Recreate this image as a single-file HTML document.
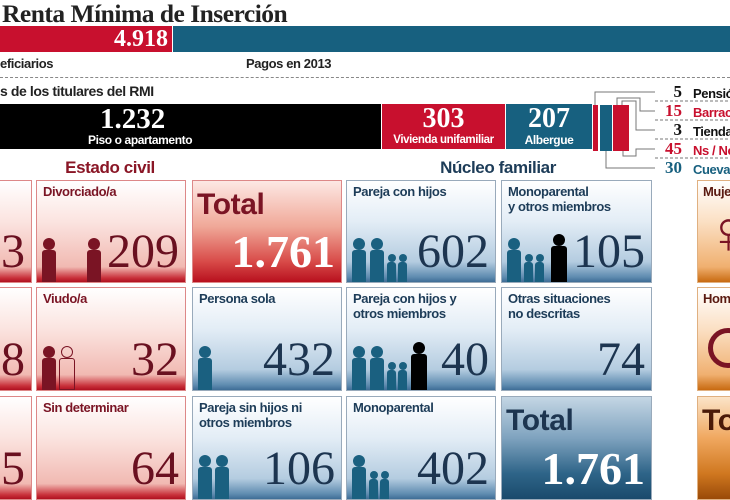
<!DOCTYPE html>
<html><head><meta charset="utf-8"><style>
*{margin:0;padding:0;box-sizing:border-box}
body{width:730px;height:500px;overflow:hidden;background:#fff;position:relative;font-family:"Liberation Sans",sans-serif}
.a{position:absolute}
.lbl{font-weight:bold;font-size:13px;letter-spacing:-0.4px;line-height:15px}
.num{font-family:"Liberation Serif",serif;font-size:48px;line-height:46px;text-align:right}
.rc{background:linear-gradient(#fff 0%,#fbe4e0 40%,#f1b9b2 85%,#c8303a 96%,#b01020 100%);border:1px solid #d88}
.bc{background:linear-gradient(#fff 0%,#e3edf6 40%,#b4cce0 80%,#5f8cb0 95%,#3e6d96 100%);border:1px solid #9ab}
.rc .lbl{color:#7a1424}.rc .num{color:#6a1020}
.bc .lbl{color:#1d3c58}.bc .num{color:#1d3550}
.cell{position:absolute;overflow:hidden}
.cell .lbl{position:absolute;left:6px;top:3px}
.cell .num{position:absolute;right:6px;bottom:7px}
.p{position:absolute;bottom:0}
.p i{display:block;border-radius:50%;margin:0 auto}
.p b{display:block;border-radius:3px 3px 0 0}
</style></head><body>
<div class="a" style="left:2px;top:-1px;font-family:'Liberation Serif',serif;font-weight:bold;font-size:25.5px;color:#222;letter-spacing:-0.5px">Renta Mínima de Inserción</div>
<div class="a" style="left:0;top:26px;width:172px;height:26px;background:#c8102e;color:#fff;font-family:'Liberation Serif',serif;font-weight:bold;font-size:24px;text-align:right;padding-right:4px;line-height:26px">4.918</div>
<div class="a" style="left:173px;top:26px;width:557px;height:26px;background:#17607f"></div>
<div class="a lbl" style="left:0;top:56px;color:#222">eficiarios</div>
<div class="a lbl" style="left:246px;top:56px;color:#222">Pagos en 2013</div>
<div class="a" style="left:0;top:77px;width:730px;border-top:1px dashed #888"></div>
<div class="a lbl" style="left:0;top:84px;color:#222;font-size:14px">s de los titulares del RMI</div>
<div class="a" style="left:0;top:104px;width:381px;height:45px;background:#000;color:#fff">
<div style="font-family:'Liberation Serif',serif;font-weight:bold;font-size:29px;line-height:30px;position:absolute;left:100px;top:0">1.232</div>
<div class="lbl" style="position:absolute;left:88px;top:29px;font-size:12px">Piso o apartamento</div></div>
<div class="a" style="left:382px;top:104px;width:123px;height:45px;background:#c8102e;color:#fff;text-align:center">
<div style="font-family:'Liberation Serif',serif;font-weight:bold;font-size:28px;line-height:29px">303</div><div class="lbl" style="font-size:11.5px">Vivienda unifamiliar</div></div>
<div class="a" style="left:506px;top:104px;width:86px;height:45px;background:#17607f;color:#fff;text-align:center">
<div style="font-family:'Liberation Serif',serif;font-weight:bold;font-size:28px;line-height:29px">207</div><div class="lbl" style="font-size:12px">Albergue</div></div>
<div class="a" style="left:593px;top:105px;width:5px;height:46px;background:#c8102e"></div>
<div class="a" style="left:600px;top:105px;width:12px;height:46px;background:#17607f"></div>
<div class="a" style="left:613px;top:105px;width:16px;height:46px;background:#c8102e"></div>
<svg class="a" style="left:580px;top:80px" width="150" height="100" fill="none" stroke="#777" stroke-width="1">
<polyline points="15,25 15,12 75,12"/><polyline points="37,25 37,18 60,18 60,31 75,31"/><polyline points="42,25 42,21 56,21 56,50 75,50"/>
<polyline points="43,71 43,76 56,76 56,69 75,69"/><polyline points="26,71 26,88 75,88"/>
<line x1="75" y1="21" x2="150" y2="21" stroke-dasharray="3,2"/><line x1="75" y1="40" x2="150" y2="40" stroke-dasharray="3,2"/><line x1="75" y1="59" x2="150" y2="59" stroke-dasharray="3,2"/><line x1="75" y1="78" x2="150" y2="78" stroke-dasharray="3,2"/>
</svg>
<div class="a" style="left:650px;top:82px;width:32px;text-align:right;font-family:'Liberation Serif',serif;font-weight:bold;font-size:17px;line-height:19px"><div style="color:#111">5</div><div style="color:#c8102e">15</div><div style="color:#111">3</div><div style="color:#c8102e">45</div><div style="color:#17607f">30</div></div>
<div class="a lbl" style="left:693px;top:84px;font-size:13px;line-height:19px;white-space:nowrap"><div style="color:#111">Pensión</div><div style="color:#c8102e">Barracas</div><div style="color:#111">Tienda</div><div style="color:#c8102e">Ns / Nc</div><div style="color:#17607f">Cueva</div></div>
<div class="a lbl" style="left:55px;top:158px;width:110px;text-align:center;font-size:17px;color:#8a1626;line-height:20px">Estado civil</div>
<div class="a lbl" style="left:423px;top:158px;width:150px;text-align:center;font-size:17px;color:#1d3c58;line-height:20px">Núcleo familiar</div>

<div class="cell rc" style="left:-10px;top:180px;width:42px;height:103px"><div class="num">23</div></div>
<div class="cell rc" style="left:-10px;top:287px;width:42px;height:104px"><div class="num">18</div></div>
<div class="cell rc" style="left:-10px;top:396px;width:42px;height:104px"><div class="num">15</div></div>

<div class="cell rc" style="left:36px;top:180px;width:150px;height:103px"><div class="lbl">Divorciado/a</div>
<div class="p" style="left:5px"><i style="width:12px;height:12px;background:#7a1424"></i><b style="width:14px;height:32px;background:#7a1424"></b></div>
<div class="p" style="left:50px"><i style="width:12px;height:12px;background:#7a1424"></i><b style="width:14px;height:32px;background:#7a1424"></b></div>
<div class="num">209</div></div>
<div class="cell rc" style="left:36px;top:287px;width:150px;height:104px"><div class="lbl">Viudo/a</div>
<div class="p" style="left:5px"><i style="width:12px;height:12px;background:#7a1424"></i><b style="width:14px;height:32px;background:#7a1424"></b></div>
<div class="p" style="left:22px"><i style="width:12px;height:12px;border:1px solid #7a1424"></i><b style="width:16px;height:32px;border:1px solid #7a1424"></b></div>
<div class="num">32</div></div>
<div class="cell rc" style="left:36px;top:396px;width:150px;height:104px"><div class="lbl">Sin determinar</div><div class="num">64</div></div>

<div class="cell" style="left:192px;top:180px;width:150px;height:103px;background:linear-gradient(#fde8e4 0%,#f0a898 45%,#d84a48 80%,#b8101e 100%);border:1px solid #d88">
<div class="lbl" style="left:4px;top:8px;font-size:30px;line-height:32px;color:#7a1424">Total</div>
<div class="num" style="color:#fff;font-weight:bold;font-size:46px">1.761</div></div>
<div class="cell bc" style="left:192px;top:287px;width:150px;height:104px"><div class="lbl">Persona sola</div>
<div class="p" style="left:5px"><i style="width:12px;height:12px;background:#1a6080"></i><b style="width:14px;height:32px;background:#1a6080"></b></div>
<div class="num">432</div></div>
<div class="cell bc" style="left:192px;top:396px;width:150px;height:104px"><div class="lbl">Pareja sin hijos ni<br>otros miembros</div>
<div class="p" style="left:5px"><i style="width:12px;height:12px;background:#1a6080"></i><b style="width:14px;height:32px;background:#1a6080"></b></div>
<div class="p" style="left:22px"><i style="width:12px;height:12px;background:#1a6080"></i><b style="width:14px;height:32px;background:#1a6080"></b></div>
<div class="num">106</div></div>

<div class="cell bc" style="left:346px;top:180px;width:150px;height:103px"><div class="lbl">Pareja con hijos</div>
<div class="p" style="left:5px"><i style="width:12px;height:12px;background:#1a6080"></i><b style="width:14px;height:32px;background:#1a6080"></b></div>
<div class="p" style="left:23px"><i style="width:12px;height:12px;background:#1a6080"></i><b style="width:14px;height:32px;background:#1a6080"></b></div>
<div class="p" style="left:40px"><i style="width:8px;height:8px;background:#1a6080"></i><b style="width:9px;height:20px;background:#1a6080"></b></div>
<div class="p" style="left:51px"><i style="width:8px;height:8px;background:#1a6080"></i><b style="width:9px;height:20px;background:#1a6080"></b></div>
<div class="num">602</div></div>
<div class="cell bc" style="left:346px;top:287px;width:150px;height:104px"><div class="lbl">Pareja con hijos y<br>otros miembros</div>
<div class="p" style="left:5px"><i style="width:12px;height:12px;background:#1a6080"></i><b style="width:14px;height:32px;background:#1a6080"></b></div>
<div class="p" style="left:23px"><i style="width:12px;height:12px;background:#1a6080"></i><b style="width:14px;height:32px;background:#1a6080"></b></div>
<div class="p" style="left:40px"><i style="width:8px;height:8px;background:#1a6080"></i><b style="width:9px;height:20px;background:#1a6080"></b></div>
<div class="p" style="left:51px"><i style="width:8px;height:8px;background:#1a6080"></i><b style="width:9px;height:20px;background:#1a6080"></b></div>
<div class="p" style="left:64px"><i style="width:12px;height:12px;background:#000"></i><b style="width:16px;height:36px;background:#000"></b></div>
<div class="num">40</div></div>
<div class="cell bc" style="left:346px;top:396px;width:150px;height:104px"><div class="lbl">Monoparental</div>
<div class="p" style="left:5px"><i style="width:12px;height:12px;background:#1a6080"></i><b style="width:14px;height:32px;background:#1a6080"></b></div>
<div class="p" style="left:22px"><i style="width:8px;height:8px;background:#1a6080"></i><b style="width:9px;height:20px;background:#1a6080"></b></div>
<div class="p" style="left:33px"><i style="width:8px;height:8px;background:#1a6080"></i><b style="width:9px;height:20px;background:#1a6080"></b></div>
<div class="num">402</div></div>

<div class="cell bc" style="left:501px;top:180px;width:151px;height:103px"><div class="lbl">Monoparental<br>y otros miembros</div>
<div class="p" style="left:5px"><i style="width:12px;height:12px;background:#1a6080"></i><b style="width:14px;height:32px;background:#1a6080"></b></div>
<div class="p" style="left:22px"><i style="width:8px;height:8px;background:#1a6080"></i><b style="width:9px;height:20px;background:#1a6080"></b></div>
<div class="p" style="left:33px"><i style="width:8px;height:8px;background:#1a6080"></i><b style="width:9px;height:20px;background:#1a6080"></b></div>
<div class="p" style="left:49px"><i style="width:12px;height:12px;background:#000"></i><b style="width:16px;height:36px;background:#000"></b></div>
<div class="num">105</div></div>
<div class="cell bc" style="left:501px;top:287px;width:151px;height:104px"><div class="lbl">Otras situaciones<br>no descritas</div><div class="num">74</div></div>
<div class="cell" style="left:501px;top:396px;width:151px;height:104px;background:linear-gradient(#c4d6e4 0%,#7fa3bf 40%,#2e6488 75%,#1a4a6c 100%);border:1px solid #9ab">
<div class="lbl" style="left:4px;top:8px;font-size:30px;line-height:32px;color:#1d3550">Total</div>
<div class="num" style="color:#fff;font-weight:bold;font-size:46px">1.761</div></div>

<div class="cell" style="left:697px;top:180px;width:40px;height:103px;background:linear-gradient(#fff 0%,#fbe0c4 40%,#f0b070 85%,#c86a10 100%);border:1px solid #e0b080">
<div class="lbl" style="left:5px;top:3px;color:#5a1a10">Mujeres</div><div style="position:absolute;left:8px;top:22px;font-size:60px;line-height:60px;color:#7a1424">♀</div></div>
<div class="cell" style="left:697px;top:287px;width:40px;height:104px;background:linear-gradient(#fff 0%,#fbe0c4 40%,#f0b070 85%,#c86a10 100%);border:1px solid #e0b080">
<div class="lbl" style="left:5px;top:3px;color:#5a1a10">Hombres</div><div style="position:absolute;left:10px;top:40px;width:40px;height:40px;border:5px solid #7a1424;border-radius:50%"></div></div>
<div class="cell" style="left:697px;top:396px;width:40px;height:104px;background:linear-gradient(#fbe4c8 0%,#f0a860 40%,#d07820 75%,#9a4a08 100%);border:1px solid #e0b080">
<div class="lbl" style="left:4px;top:8px;font-size:30px;line-height:32px;color:#4a1a08">Total</div></div>
</body></html>
